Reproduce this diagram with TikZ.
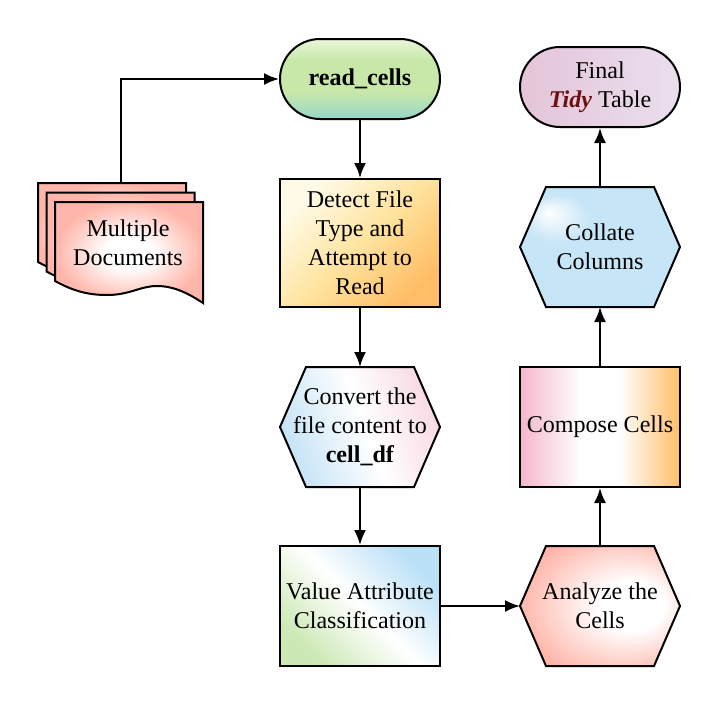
\documentclass[tikz,border=0pt]{standalone}
\usepackage{fontspec}
\setmainfont{Liberation Serif}
\usetikzlibrary{arrows.meta}

\definecolor{tidyred}{HTML}{6B1010}
\definecolor{paperpink}{RGB}{255,182,170}
\definecolor{readtop}{RGB}{234,246,218}
\definecolor{readmid}{RGB}{200,232,170}
\definecolor{readbot}{RGB}{150,214,204}
\definecolor{detectlight}{RGB}{255,250,232}
\definecolor{detectmid}{RGB}{255,228,160}
\definecolor{detectdark}{RGB}{255,190,102}
\definecolor{convertblue}{RGB}{196,226,246}
\definecolor{convertpink}{RGB}{248,216,228}
\definecolor{valuegreen}{RGB}{204,232,180}
\definecolor{valueblue}{RGB}{186,224,246}
\definecolor{analyzepink}{RGB}{255,180,168}
\definecolor{composepink}{RGB}{244,182,204}
\definecolor{composeorange}{RGB}{255,190,104}
\definecolor{collateblue}{RGB}{198,229,246}
\definecolor{finalleft}{RGB}{228,196,216}
\definecolor{finalmid}{RGB}{216,190,212}
\definecolor{finalright}{RGB}{234,223,238}

\pgfdeclareverticalshading{readshade}{100bp}{color(0bp)=(readbot); color(25bp)=(readbot); color(42bp)=(readmid); color(62bp)=(readmid); color(75bp)=(readtop); color(100bp)=(readtop)}
\pgfdeclareverticalshading{detectshade}{100bp}{color(0bp)=(detectdark); color(25bp)=(detectdark); color(50bp)=(detectmid); color(75bp)=(detectlight); color(100bp)=(detectlight)}
\pgfdeclarehorizontalshading{convertshade}{100bp}{color(0bp)=(convertblue); color(25bp)=(convertblue); color(52bp)=(white); color(75bp)=(convertpink); color(100bp)=(convertpink)}
\pgfdeclareverticalshading{valueshade}{100bp}{color(0bp)=(valuegreen); color(25bp)=(valuegreen); color(50bp)=(white); color(75bp)=(valueblue); color(100bp)=(valueblue)}
\pgfdeclarehorizontalshading{composeshade}{100bp}{color(0bp)=(composepink); color(25bp)=(composepink); color(44bp)=(white); color(56bp)=(white); color(75bp)=(composeorange); color(100bp)=(composeorange)}
\pgfdeclareradialshading{analyzeshade}{\pgfpoint{12bp}{0bp}}{color(0bp)=(white); color(10bp)=(white); color(30bp)=(analyzepink); color(50bp)=(analyzepink)}
\pgfdeclareradialshading{collateshade}{\pgfpoint{-16bp}{14bp}}{color(0bp)=(white); color(10bp)=(collateblue); color(50bp)=(collateblue)}
\pgfdeclareradialshading{papershade}{\pgfpoint{0bp}{0bp}}{color(0bp)=(white); color(8bp)=(white); color(25bp)=(paperpink); color(50bp)=(paperpink)}

\tikzset{
  box/.style={draw, line width=0.04cm, minimum width=3.2cm, minimum height=2.4cm,
    inner sep=0pt, align=center, font=\fontsize{13.7}{16.5}\selectfont},
  term/.style={box, minimum height=1.6cm, rounded corners=0.8cm},
  hexa/.style={box, draw=none, minimum width=3.3cm, minimum height=2.5cm, outer sep=-0.05cm,
    path picture={\draw[line width=0.04cm, #1] (path picture bounding box.center)
      ++(-1.6,0) -- ++(0.52,1.2) -- ++(2.16,0) -- ++(0.52,-1.2) -- ++(-0.52,-1.2) -- ++(-2.16,0) -- cycle;}},
  paper/.style={draw, line width=0.04cm, shading=papershade},
  link/.style={line width=0.04cm, ->},
}

\begin{document}
\begin{tikzpicture}[>={Latex[length=0.3cm,width=0.24cm]}]
\useasboundingbox (0,0) rectangle (14.4,-14.14);

% stacked documents
\foreach \k in {2,1,0}
  \draw[paper, shift={(1.1-0.17*\k, -4.04+0.19*\k)}]
    (0,0) -- (2.96,0) -- (2.96,-2.02)
    .. controls (2.7,-1.85) and (2.4,-1.68) .. (2.04,-1.68)
    .. controls (1.7,-1.68) and (1.5,-1.86) .. (1.04,-1.86)
    .. controls (0.7,-1.86) and (0.4,-1.8) .. (0,-1.58) -- cycle;
\node (docs) at (2.56, -4.86) [align=center, font=\fontsize{13.7}{16.5}\selectfont] {Multiple\\Documents};
\coordinate (docstop) at (2.42, -3.66);

% left column
\node (read) at (7.2, -1.58) [term, shading=readshade] {\textbf{read\_cells}};
\node (detect) at (7.2, -4.86) [box, minimum height=2.56cm, shading=detectshade, shading angle=45] {Detect File\\Type and\\Attempt to\\Read};
\node (convert) at (7.2, -8.54) [hexa={shading=convertshade, shading angle=20}] {Convert the\\file content to\\\textbf{cell\_df}};
\node (value) at (7.2, -12.12) [box, shading=valueshade, shading angle=-45] {Value Attribute\\Classification};

% right column
\node (analyze) at (12.0, -12.12) [hexa={shading=analyzeshade}] {Analyze the\\Cells};
\node (compose) at (12.0, -8.54) [box, shading=composeshade] {Compose Cells};
\node (collate) at (12.0, -4.94) [hexa={shading=collateshade}] {Collate\\Columns};
\node (final) at (12.0, -1.74) [term, left color=finalleft, middle color=finalmid, right color=finalright] {Final\\\textcolor{tidyred}{\textbf{\textit{Tidy}}} Table};

\draw (docstop) |- (read) [link];
\draw (read) to (detect) [link];
\draw (detect) to (convert) [link];
\draw (convert) to (value) [link];
\draw (value) to (analyze) [link];
\draw (analyze) to (compose) [link];
\draw (compose) to (collate) [link];
\draw (collate) to (final) [link];

\end{tikzpicture}
\end{document}
